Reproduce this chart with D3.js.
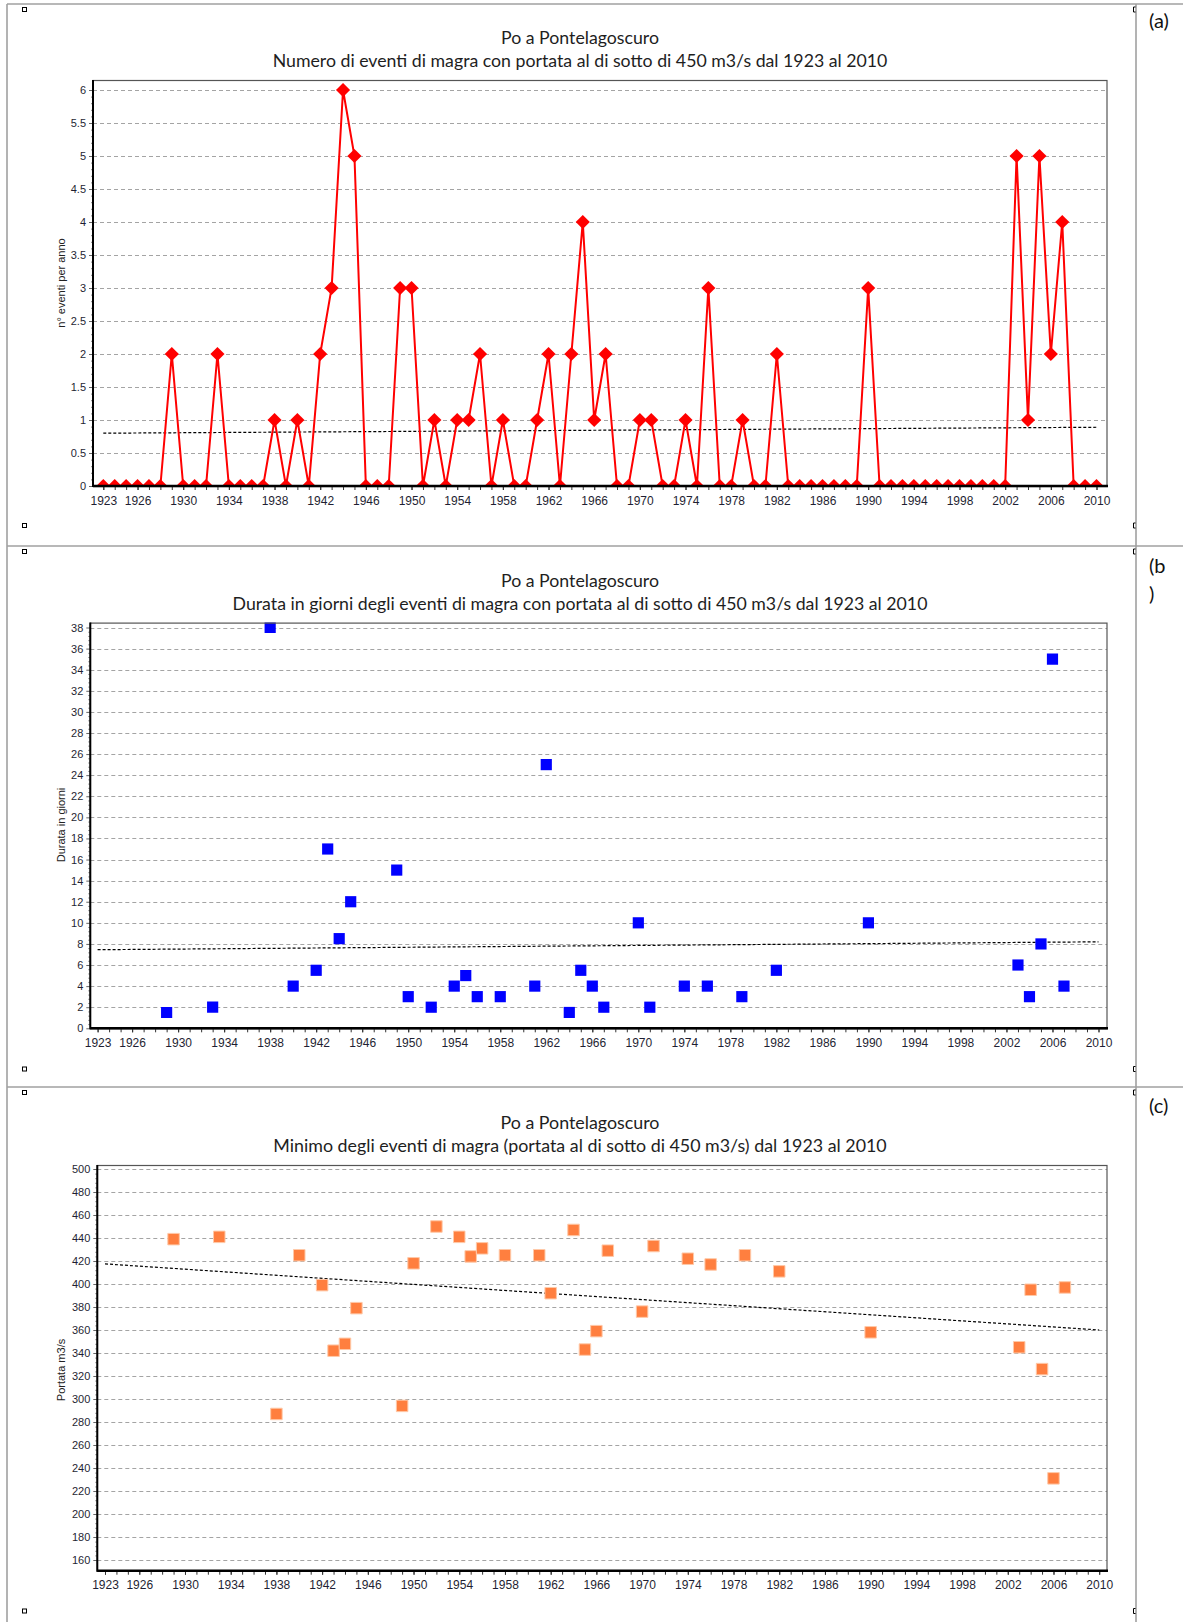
<!DOCTYPE html>
<html><head><meta charset="utf-8">
<script src="https://cdn.jsdelivr.net/npm/d3@7"></script>
<style>body{margin:0;background:#fff}svg{display:block}</style>
</head><body>
<svg id="chart" width="1183" height="1622"></svg>
<script>
// ---------- DATA ----------
const years = [1923,1924,1925,1926,1927,1928,1929,
  1930,1931,1932,1933,1934,1935,1936,1937,1938,1939,
  1940,1941,1942,1943,1944,1945,1946,1947,1948,1949,
  1950,1951,1952,1953,1954,1955,1956,1957,1958,1959,
  1960,1961,1962,1963,1964,1965,1966,1967,1968,1969,
  1970,1971,1972,1973,1974,1975,1976,1977,1978,1979,
  1980,1981,1982,1983,1984,1985,1986,1987,1988,1989,
  1990,1991,1992,1993,1994,1995,1996,1997,1998,1999,
  2000,2001,2002,2003,2004,2005,2006,2007,2008,2009,2010];
const eventCounts = [0,0,0,0,0,0,2,
  0,0,0,2,0,0,0,0,1,0,
  1,0,2,3,6,5,0,0,0,3,
  3,0,1,0,1,1,2,0,1,0,
  0,1,2,0,2,4,1,2,0,0,
  1,1,0,0,1,0,3,0,0,1,
  0,0,2,0,0,0,0,0,0,0,
  3,0,0,0,0,0,0,0,0,0,
  0,0,0,5,1,5,2,4,0,0,0];
const eventYears = [1929,1933,1938,1940,1942,1943,1944,1945,1949,1950,1952,1954,1955,1956,1958,
  1961,1962,1964,1965,1966,1967,1970,1971,1974,1976,1979,1982,1990,2003,2004,2005,2006,2007];
const durationDays = [1.5,2,38,4,5.5,17,8.5,12,15,3,2,4,5,3,3,
  4,25,1.5,5.5,4,2,10,2,4,4,3,5.5,10,6,3,8,35,4];
const minFlow = [439,441,287,425,399,342,348,379,294,418,450,441,424,431,425,
  425,392,447,343,359,429,376,433,422,417,425,411,358,345,395,326,231,397];
const xTickLabels = [1923,1926,1930,1934,1938,1942,1946,1950,1954,1958,1962,1966,1970,1974,1978,1982,1986,1990,1994,1998,2002,2006,2010];
const yTicksA = [0,0.5,1,1.5,2,2.5,3,3.5,4,4.5,5,5.5,6];
const yTicksB = [0,2,4,6,8,10,12,14,16,18,20,22,24,26,28,30,32,34,36,38];
const yTicksC = [160,180,200,220,240,260,280,300,320,340,360,380,400,420,440,460,480,500];
const trendYears = [1923, 2010];
const trendA = [0.80, 0.89];
const trendB = [7.45, 8.2];
const trendC = [417.5, 360];
const titleLine1 = "Po a Pontelagoscuro";
const titleLine2 = [
  "Numero di eventi di magra con portata al di sotto di 450 m3/s dal 1923 al 2010",
  "Durata in giorni degli eventi di magra con portata al di sotto di 450 m3/s dal 1923 al 2010",
  "Minimo degli eventi di magra (portata al di sotto di 450 m3/s) dal 1923 al 2010"];
const yAxisTitles = ["n° eventi per anno", "Durata in giorni", "Portata m3/s"];
const panelTags = [["(a)"], ["(b", ")"], ["(c)"]];

// ---------- LAYOUT ----------
const svg = d3.select("#chart");
const W = 1183, H = 1622;
const gridColor = "#a4a4a4";
const tickFont = "'Liberation Sans', Arial, sans-serif";
const titleFont = "Lato, 'Open Sans', sans-serif";

// table frame
const frame = svg.append("g").attr("stroke", "#a0a0a0").attr("stroke-width", 1.6).attr("fill", "none");
[[7, 4, 7, H], [1136, 4, 1136, H], [7, 4, W, 4], [7, 546, W, 546], [7, 1087, W, 1087]].forEach(l =>
  frame.append("line").attr("x1", l[0]).attr("y1", l[1]).attr("x2", l[2]).attr("y2", l[3]));

const panels = [
  {left: 93, right: 1107, top: 80, bottom: 486, x0: 103.3, x1: 1096.5, yDom: [0, 6], yR: [486, 90],
   ticks: yTicksA, titleY: [38, 61], ylabY: 283, titleW: 615, cellTop: 4, cellBot: 546, tagY: [21]},
  {left: 90.3, right: 1107, top: 622.6, bottom: 1028.3, x0: 97.6, x1: 1098.5, yDom: [0, 38], yR: [1028.3, 627.5],
   ticks: yTicksB, titleY: [581, 604], ylabY: 825, titleW: 695, cellTop: 546, cellBot: 1087, tagY: [566, 594]},
  {left: 97.3, right: 1107, top: 1165, bottom: 1570.7, x0: 105, x1: 1099.2, yDom: [160, 500], yR: [1560, 1169],
   ticks: yTicksC, titleY: [1123, 1146], ylabY: 1370, titleW: 614, cellTop: 1087, cellBot: 1622, tagY: [1106]}
];

panels.forEach((p, i) => {
  const g = svg.append("g");
  const x = d3.scaleLinear().domain([1923, 2010]).range([p.x0, p.x1]);
  const y = d3.scaleLinear().domain(p.yDom).range(p.yR);

  // anchor markers
  const topM = p.cellTop + 3, botM = (i === 0 ? 523 : i === 1 ? 1066.5 : 1608.5);
  [topM, botM].forEach(yy => {
    g.append("rect").attr("x", 22.5).attr("y", yy + 0.5).attr("width", 4).attr("height", 4)
      .attr("fill", "#fff").attr("stroke", "#000").attr("stroke-width", 1);
    g.append("path").attr("d", `M1135.5,${yy} h-2 v5 h2`).attr("fill", "none").attr("stroke", "#000").attr("stroke-width", 1);
  });

  // titles
  const t2 = g.append("text").attr("x", 580).attr("y", p.titleY[1]).attr("dy", "0.35em")
    .attr("text-anchor", "middle").attr("font-family", titleFont).attr("font-size", 17).attr("fill", "#1e1e1e")
    .text(titleLine2[i]);
  const fs = 17 * p.titleW / t2.node().getComputedTextLength();
  t2.attr("font-size", fs);
  g.append("text").attr("x", 580).attr("y", p.titleY[0]).attr("dy", "0.35em")
    .attr("text-anchor", "middle").attr("font-family", titleFont).attr("font-size", fs).attr("fill", "#1e1e1e")
    .text(titleLine1);

  // panel tag
  panelTags[i].forEach((s, k) => g.append("text").attr("x", 1149).attr("y", p.tagY[k]).attr("dy", "0.35em")
    .attr("font-family", titleFont).attr("font-size", 20).attr("fill", "#111").text(s));

  // y axis title
  g.append("text").attr("transform", `translate(61,${p.ylabY}) rotate(-90)`).attr("text-anchor", "middle")
    .attr("dy", "0.35em").attr("font-family", tickFont).attr("font-size", 11).attr("fill", "#222")
    .text(yAxisTitles[i]);

  // grid
  g.append("g").selectAll("line").data(p.ticks).join("line")
    .attr("x1", p.left).attr("x2", p.right).attr("y1", d => Math.round(y(d)) + 0.5).attr("y2", d => Math.round(y(d)) + 0.5)
    .attr("stroke", gridColor).attr("stroke-width", 1).attr("stroke-dasharray", "4,3");

  // minor y ticks
  const step = p.ticks[1] - p.ticks[0];
  const minor = [];
  p.ticks.slice(0, -1).forEach(t => { for (let k = 1; k < 5; k++) minor.push(t + k * step / 5); });
  const yMinor = d3.axisLeft(y).tickValues(minor).tickSize(2).tickFormat("");
  g.append("g").attr("transform", `translate(${p.left},0)`).call(yMinor)
    .call(s => s.select(".domain").remove()).selectAll("line").attr("stroke", "#888");

  // y axis major
  const yAxis = d3.axisLeft(y).tickValues(p.ticks).tickSize(4).tickPadding(3).tickFormat(d => String(d));
  g.append("g").attr("transform", `translate(${p.left},0)`).call(yAxis)
    .call(s => s.select(".domain").remove())
    .call(s => s.selectAll("line").attr("stroke", "#666"))
    .call(s => s.selectAll("text").attr("font-family", tickFont).attr("font-size", 11).attr("fill", "#1f1f33"));

  // x axis minor ticks (every year)
  const xMinor = d3.axisBottom(x).tickValues(years).tickSize(4).tickFormat("");
  g.append("g").attr("transform", `translate(0,${p.bottom})`).call(xMinor)
    .call(s => s.select(".domain").remove()).selectAll("line").attr("stroke", "#333");
  // x axis labels
  const xAxis = d3.axisBottom(x).tickValues(xTickLabels).tickSize(4).tickPadding(6).tickFormat(d3.format("d"));
  g.append("g").attr("transform", `translate(0,${p.bottom})`).call(xAxis)
    .call(s => s.select(".domain").remove())
    .call(s => s.selectAll("line").attr("stroke", "#333"))
    .call(s => s.selectAll("text").attr("font-family", tickFont).attr("font-size", 12).attr("fill", "#1f1f33"));

  // clip
  const cid = "clip" + i;
  svg.append("defs").append("clipPath").attr("id", cid).append("rect")
    .attr("x", p.left).attr("y", p.top).attr("width", p.right - p.left).attr("height", p.bottom - p.top);
  const plot = g.append("g").attr("clip-path", `url(#${cid})`);

  // trend line
  const trend = [trendA, trendB, trendC][i];
  plot.append("path").datum(trendYears.map((yr, k) => [yr, trend[k]]))
    .attr("d", d3.line().x(d => x(d[0])).y(d => y(d[1])))
    .attr("fill", "none").attr("stroke", "#000").attr("stroke-width", 1.2).attr("stroke-dasharray", "3,2");

  if (i === 0) {
    const pts = years.map((yr, k) => [yr, eventCounts[k]]);
    plot.append("path").datum(pts).attr("d", d3.line().x(d => x(d[0])).y(d => y(d[1])))
      .attr("fill", "none").attr("stroke", "#ff0000").attr("stroke-width", 2);
    const diamond = d3.symbol().type(d3.symbolSquare).size(100);
    plot.selectAll("path.m").data(pts).join("path").attr("class", "m")
      .attr("transform", d => `translate(${x(d[0])},${y(d[1])}) rotate(45)`)
      .attr("d", diamond).attr("fill", "#ff0000");
  } else if (i === 1) {
    const sq = d3.symbol().type(d3.symbolSquare).size(125);
    plot.selectAll("path.m").data(eventYears.map((yr, k) => [yr, durationDays[k]])).join("path").attr("class", "m")
      .attr("transform", d => `translate(${x(d[0])},${y(d[1])})`).attr("d", sq).attr("fill", "#0000ff");
  } else {
    const sq = d3.symbol().type(d3.symbolSquare).size(132);
    plot.selectAll("path.m").data(eventYears.map((yr, k) => [yr, minFlow[k]])).join("path").attr("class", "m")
      .attr("transform", d => `translate(${x(d[0])},${y(d[1])})`).attr("d", sq)
      .attr("fill", "#ff7f3f").attr("stroke", "#ffc9a8").attr("stroke-width", 1);
  }

  // frame
  g.append("rect").attr("x", p.left).attr("y", p.top + 0.5).attr("width", p.right - p.left).attr("height", p.bottom - p.top)
    .attr("fill", "none").attr("stroke", "#555").attr("stroke-width", 1.2);
  g.append("line").attr("x1", p.left).attr("x2", p.left).attr("y1", p.top).attr("y2", p.bottom + 1)
    .attr("stroke", "#000").attr("stroke-width", 2);
  g.append("line").attr("x1", p.left).attr("x2", p.right + 1).attr("y1", p.bottom).attr("y2", p.bottom)
    .attr("stroke", "#000").attr("stroke-width", 2.5);
});
</script>
</body></html>
